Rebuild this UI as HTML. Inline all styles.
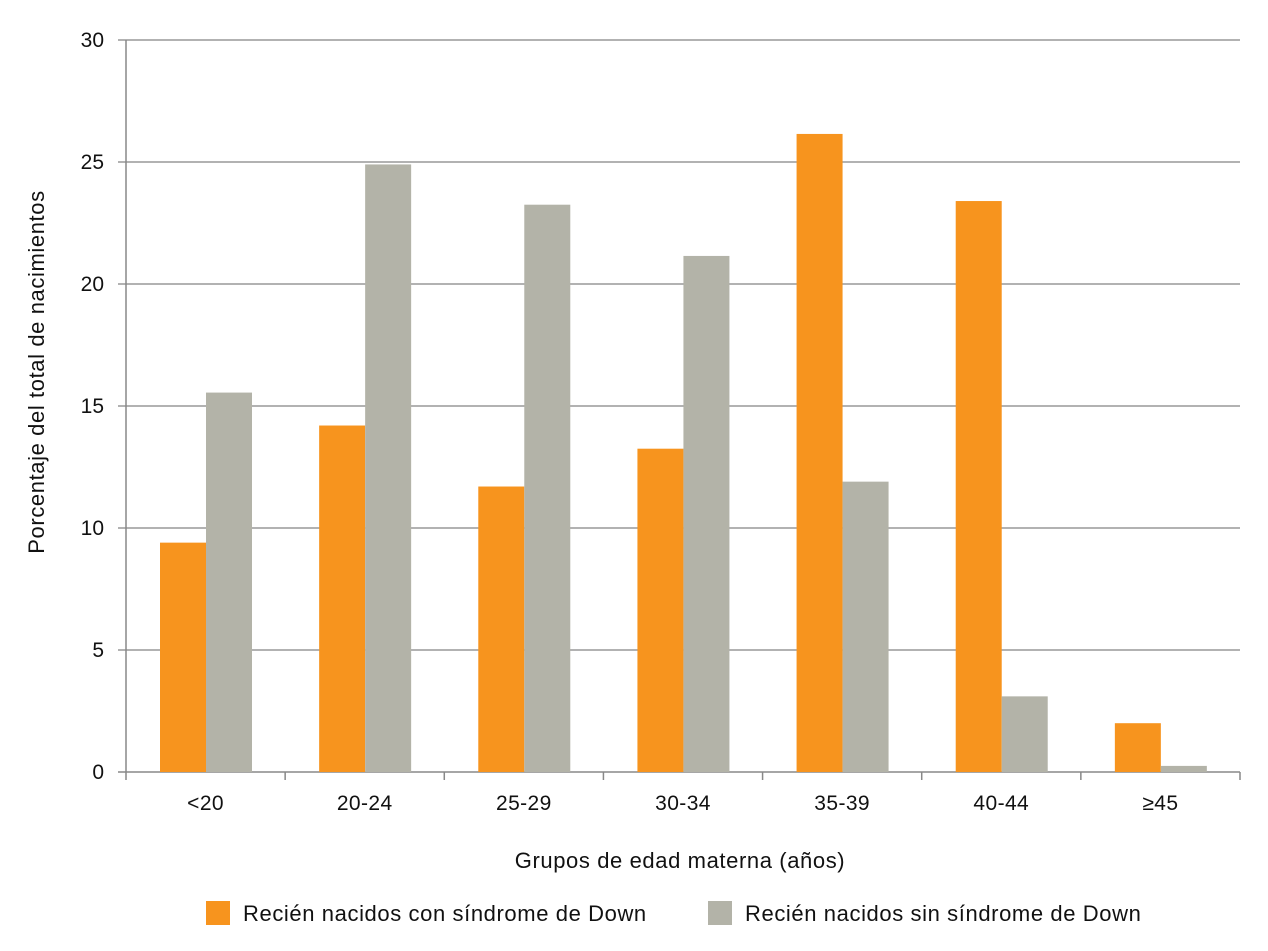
<!DOCTYPE html>
<html><head><meta charset="utf-8"><style>
body{margin:0;background:#fff;font-family:"Liberation Sans",sans-serif}
svg text{font-family:"Liberation Sans",sans-serif;fill:#111}
</style></head><body>
<svg id="chart" width="1268" height="946" xmlns="http://www.w3.org/2000/svg"></svg>
<script>
const categories=["<20","20-24","25-29","30-34","35-39","40-44","≥45"];
const withDown=[9.4,14.2,11.7,13.25,26.15,23.4,2.0];
const withoutDown=[15.55,24.9,23.25,21.15,11.9,3.1,0.25];
const yTicks=[0,5,10,15,20,25,30];
const svg=document.getElementById('chart');
const NS='http://www.w3.org/2000/svg';
const L=126,R=1240,T=40,B=772,yMax=30;
const y=v=>B-(v/yMax)*(B-T);
const bw=(R-L)/categories.length;
const x=i=>L+i*bw;
function mk(tag,attrs,parent){const e=document.createElementNS(NS,tag);for(const k in attrs)e.setAttribute(k,attrs[k]);(parent||svg).appendChild(e);return e;}
yTicks.forEach(t=>{
  const g=mk('line',{x1:118,x2:R,y1:y(t),y2:y(t),stroke:t===0?'#888':'#999','stroke-width':1.5});
  
  
  const lb=mk('text',{x:104,y:y(t)+7,'text-anchor':'end','font-size':21});
  lb.textContent=t;
  
  
});
mk('line',{x1:L,x2:L,y1:T,y2:B,stroke:'#888','stroke-width':1.5});
for(let i=0;i<=categories.length;i++){
  mk('line',{x1:x(i),x2:x(i),y1:B,y2:B+8,stroke:'#888','stroke-width':1.5});
}
categories.forEach((c,i)=>{
  const b1=mk('rect',{x:x(i)+34,y:y(withDown[i]),width:46,height:B-y(withDown[i]),fill:'#F7941E'});
  
  
  const b2=mk('rect',{x:x(i)+80,y:y(withoutDown[i]),width:46,height:B-y(withoutDown[i]),fill:'#B3B3A8'});
  
  
  const t=mk('text',{x:x(i)+bw/2,y:810,'text-anchor':'middle','font-size':21,'letter-spacing':0.4});
  t.textContent=c;
  
  
});
const xt=mk('text',{x:680,y:868,'text-anchor':'middle','font-size':22,'letter-spacing':0.6});
xt.textContent='Grupos de edad materna (años)';


const yt=mk('text',{x:0,y:0,'text-anchor':'middle','font-size':22,'letter-spacing':0.6,transform:'translate(44,372) rotate(-90)'});
yt.textContent='Porcentaje del total de nacimientos';


const lg=[['#F7941E','Recién nacidos con síndrome de Down',206],['#B3B3A8','Recién nacidos sin síndrome de Down',708]];
lg.forEach((l,i)=>{
  const g=mk('g',{});
  
  
  mk('rect',{x:l[2],y:901,width:24,height:24,fill:l[0]},g);
  const t=mk('text',{x:l[2]+37,y:921,'font-size':22,'letter-spacing':0.6},g);
  t.textContent=l[1];
});
</script>
</body></html>
